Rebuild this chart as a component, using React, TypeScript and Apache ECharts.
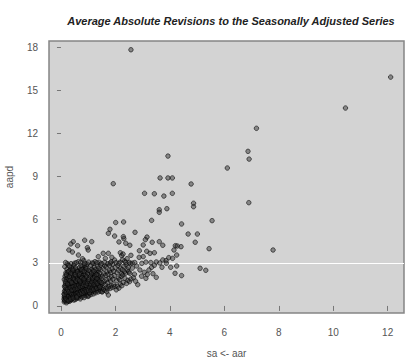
import React, { useEffect, useRef } from "react";
import * as echarts from "echarts";

const title = "Average Absolute Revisions to the Seasonally Adjusted Series";
const xName = "sa <- aar";
const yName = "aapd";
const xTicks = [0, 2, 4, 6, 8, 10, 12];
const yTicks = [0, 3, 6, 9, 12, 15, 18];
const refLineY = 3;

const clusterA: number[][] = [
  [0.12,0.28],[0.15,0.42],[0.18,0.35],[0.21,0.52],[0.14,0.61],[0.25,0.31],[0.28,0.47],[0.11,0.83],[0.19,0.74],[0.23,0.96],
  [0.31,0.58],[0.34,0.39],[0.37,0.71],[0.16,1.12],[0.27,1.05],[0.42,0.52],[0.45,0.88],[0.13,1.37],[0.22,1.28],[0.33,1.19],
  [0.39,0.94],[0.48,0.66],[0.17,1.58],[0.26,1.46],[0.36,1.41],[0.44,1.13],[0.12,1.84],[0.21,1.73],[0.30,1.66],[0.41,1.55],
  [0.49,1.27],[0.15,2.06],[0.24,1.97],[0.35,1.89],[0.46,1.78],[0.18,2.31],[0.29,2.22],[0.38,2.14],[0.47,2.02],[0.22,2.57],
  [0.32,2.46],[0.43,2.38],[0.14,2.73],[0.26,2.85],[0.40,2.67],[0.11,0.47],[0.20,0.22],[0.29,0.81],[0.35,1.02],[0.43,0.77],
  [0.17,0.93],[0.24,0.64],[0.32,0.33],[0.39,0.45],[0.47,0.41],[0.13,1.02],[0.20,1.21],[0.28,1.33],[0.38,1.28],[0.46,1.04],
  [0.16,1.44],[0.23,1.62],[0.34,1.55],[0.42,1.36],[0.50,1.48],[0.19,1.86],[0.27,1.78],[0.37,1.70],[0.44,1.92],[0.21,2.12],
  [0.31,2.03],[0.41,2.26],[0.49,2.31],[0.25,2.36],[0.36,2.53],[0.45,2.59],[0.23,2.94],[0.37,2.94],[0.31,2.78],[0.48,2.84],
  [0.12,0.63],[0.26,0.42],[0.33,0.62],[0.40,0.60],[0.18,0.57],[0.22,0.81],[0.30,1.12],[0.41,1.14],[0.15,1.28],[0.36,0.85],
];

const clusterB: number[][] = [
  [0.52,0.44],[0.55,0.61],[0.58,0.52],[0.61,0.78],[0.64,0.57],[0.67,0.69],[0.71,0.49],[0.74,0.83],[0.77,0.62],[0.81,0.74],
  [0.85,0.58],[0.88,0.91],[0.92,0.71],[0.96,0.82],[0.99,0.66],[0.53,0.97],[0.57,1.13],[0.62,1.04],[0.66,1.26],[0.70,1.09],
  [0.73,1.31],[0.78,1.17],[0.82,1.02],[0.86,1.24],[0.90,1.11],[0.94,1.36],[0.98,1.18],[0.54,1.42],[0.59,1.57],[0.63,1.48],
  [0.68,1.66],[0.72,1.53],[0.76,1.74],[0.80,1.45],[0.84,1.61],[0.89,1.82],[0.93,1.57],[0.97,1.71],[0.51,1.88],[0.56,2.03],
  [0.60,1.94],[0.65,2.16],[0.69,2.01],[0.75,2.24],[0.79,2.09],[0.83,1.97],[0.87,2.31],[0.91,2.12],[0.95,2.42],[0.53,2.34],
  [0.58,2.51],[0.62,2.43],[0.67,2.66],[0.71,2.48],[0.77,2.72],[0.81,2.57],[0.86,2.83],[0.90,2.64],[0.96,2.91],[0.50,2.97],
  [0.64,3.08],[0.72,3.03],[0.84,3.16],[0.60,0.89],[0.69,0.93],[0.76,1.01],[0.83,0.86],[0.91,0.97],[0.55,1.26],[0.64,1.33],
  [0.75,1.41],[0.87,1.44],[0.95,1.09],[0.57,1.71],[0.66,1.81],[0.74,1.92],[0.82,1.79],[0.92,1.98],[0.61,2.24],[0.70,2.32],
  [0.78,2.41],[0.88,2.19],[0.98,2.27],[0.54,2.64],[0.73,2.81],[0.93,2.77],[0.64,3.54],[0.79,3.28],[0.68,0.77],[0.86,1.05],
];

const clusterC: number[][] = [
  [1.02,0.71],[1.06,0.88],[1.10,0.79],[1.14,0.96],[1.19,0.84],[1.23,1.02],[1.27,0.91],[1.32,1.08],[1.36,0.97],[1.41,1.14],
  [1.45,1.03],[1.49,1.21],[1.03,1.12],[1.08,1.27],[1.12,1.19],[1.16,1.38],[1.21,1.24],[1.25,1.46],[1.30,1.33],[1.34,1.52],
  [1.39,1.39],[1.43,1.61],[1.47,1.47],[1.04,1.53],[1.09,1.69],[1.13,1.58],[1.18,1.77],[1.22,1.64],[1.26,1.86],[1.31,1.73],
  [1.35,1.94],[1.40,1.81],[1.44,2.03],[1.48,1.89],[1.05,1.96],[1.11,2.14],[1.15,2.02],[1.20,2.26],[1.24,2.11],[1.29,2.34],
  [1.33,2.19],[1.38,2.43],[1.42,2.28],[1.46,2.52],[1.07,2.38],[1.13,2.57],[1.17,2.46],[1.23,2.69],[1.28,2.54],[1.34,2.77],
  [1.39,2.61],[1.45,2.86],[1.10,2.82],[1.19,2.97],[1.25,3.08],[1.37,3.43],[1.41,3.04],[1.04,0.93],[1.17,1.07],[1.28,1.18],
  [1.38,1.26],[1.46,1.34],[1.12,1.43],[1.32,1.62],[1.18,1.97],[1.36,2.13],
];

const clusterD: number[][] = [
  [1.52,1.02],[1.51,0.97],[1.57,1.16],[1.62,1.08],[1.66,1.27],[1.68,0.99],[1.71,1.19],[1.74,0.76],[1.76,1.36],[1.81,1.22],
  [1.85,1.41],[1.89,1.29],[1.94,1.48],[1.98,1.35],[1.54,1.58],[1.59,1.72],[1.63,1.49],[1.67,1.83],[1.72,1.61],[1.77,1.92],
  [1.82,1.74],[1.86,2.03],[1.91,1.86],[1.96,2.12],[1.53,2.08],[1.58,2.24],[1.64,2.13],[1.69,2.37],[1.73,2.21],[1.79,2.46],
  [1.83,2.32],[1.88,2.58],[1.93,2.41],[1.99,2.67],[1.56,2.62],[1.61,2.79],[1.66,2.71],[1.72,2.94],[1.78,2.83],[1.84,3.07],
  [1.90,2.91],[1.97,3.19],[1.55,3.66],[1.74,3.66],[1.63,3.31],[1.87,3.38],
];

const clusterE: number[][] = [
  [2.03,1.12],[2.08,1.37],[2.13,1.24],[2.18,1.52],[2.24,1.41],[2.29,1.63],[2.35,1.92],[2.41,1.57],[2.46,1.78],[2.52,1.69],
  [2.57,1.88],[2.05,1.76],[2.11,1.94],[2.16,1.83],[2.21,2.07],[2.23,2.24],[2.27,2.16],[2.33,2.39],[2.38,2.28],[2.44,2.51],
  [2.49,2.36],[2.53,2.27],[2.06,2.31],[2.12,2.48],[2.19,2.62],[2.25,2.53],[2.31,2.76],[2.39,2.87],[2.47,2.68],[2.55,2.94],
  [2.09,2.82],[2.17,3.04],[2.26,3.21],[2.34,3.12],[2.43,3.29],[2.51,3.02],[2.18,3.70],[2.23,3.50],[2.28,3.61],[2.57,3.52],
];

const clusterF: number[][] = [
  [2.66,1.97],[2.82,1.48],[2.78,2.78],[2.90,2.50],[3.06,2.34],[3.12,1.92],[3.17,2.18],[3.50,1.99],[2.87,3.38],[3.02,3.43],
  [2.88,3.84],[3.15,3.80],[3.27,3.66],[3.43,3.70],[3.23,2.50],[3.33,2.69],[3.43,2.83],[3.50,3.06],[3.63,2.99],[3.71,2.69],
  [3.74,3.20],[3.86,3.15],[3.96,3.36],[4.10,3.31],[4.03,2.69],[4.25,2.78],[4.19,2.27],[4.43,2.11],[4.15,3.89],[4.25,3.54],
  [4.20,4.19],[4.27,4.17],[2.70,2.21],[2.96,2.07],[2.62,2.63],[2.74,1.72],[3.38,2.24],
];

const clusterG: number[][] = [
  [0.14,0.37],[0.17,0.51],[0.22,0.44],[0.27,0.63],[0.31,0.49],[0.35,0.57],[0.38,0.83],[0.43,0.66],[0.47,0.79],[0.52,0.71],
  [0.56,0.84],[0.59,0.69],[0.63,0.92],[0.67,0.81],[0.72,0.97],[0.76,0.88],[0.80,1.07],[0.84,0.96],[0.89,1.13],[0.93,1.04],
  [0.97,1.21],[1.01,1.08],[1.06,1.29],[1.11,1.11],[1.15,1.26],[1.20,1.16],[1.26,1.33],[1.31,1.24],[1.37,1.43],[1.42,1.31],
  [0.13,0.79],[0.19,0.97],[0.24,1.14],[0.29,0.99],[0.34,1.27],[0.40,1.09],[0.45,1.34],[0.51,1.17],[0.56,1.38],[0.61,1.21],
  [0.65,1.44],[0.70,1.31],[0.74,1.57],[0.79,1.36],[0.83,1.49],[0.88,1.64],[0.92,1.43],[0.97,1.58],[1.03,1.71],[1.09,1.52],
  [1.14,1.67],[1.21,1.49],[1.27,1.71],[1.33,1.56],[1.41,1.72],[1.48,1.64],[0.16,1.68],[0.25,1.54],[0.33,1.77],[0.39,1.62],
  [0.48,1.86],[0.55,1.74],[0.62,1.83],[0.69,1.74],[0.77,1.96],[0.85,1.88],[0.94,2.04],[1.02,1.86],[1.08,2.06],[1.16,1.91],
  [1.24,2.02],[1.32,1.91],[0.19,2.19],[0.28,2.41],[0.36,2.29],[0.44,2.49],[0.52,2.18],[0.60,2.37],[0.68,2.21],[0.76,2.53],
  [0.85,2.42],[0.94,2.59],[1.03,2.47],[1.12,2.29],[1.21,2.41],[1.30,2.18],[0.27,0.36],[0.36,0.47],[0.45,0.55],[0.58,0.61],
];

const clusterH: number[][] = [
  [0.17,3.02],[0.56,3.01],[0.88,2.97],[1.02,3.05],[1.15,2.99],[1.32,3.01],[1.49,2.96],[1.60,3.04],[1.81,2.98],
  [2.02,3.01],[2.13,2.95],[2.38,3.03],[2.62,2.98],[2.71,3.02],[2.97,2.96],[3.12,3.05],[3.30,3.02],[3.87,2.97],
];

const sparse: number[][] = [
  [0.45,4.47],[0.36,4.31],[0.42,3.75],[0.29,3.89],[0.61,4.19],[0.87,4.57],[1.13,4.47],[0.97,4.05],[1.00,3.89],
  [1.80,5.33],[2.72,5.12],[2.01,5.80],[2.30,5.84],[3.33,5.95],[1.97,4.86],[2.31,4.68],[2.53,4.22],[2.13,4.45],[2.38,4.36],
  [3.16,4.79],[3.10,4.61],[3.02,4.24],[3.35,4.43],[3.61,4.47],[3.74,4.22],[3.61,6.69],[3.61,6.51],[3.89,6.76],
  [3.07,7.83],[3.43,7.80],[3.78,7.64],[4.09,7.83],[3.64,8.90],[3.93,8.90],[4.09,8.90],[3.93,10.42],[1.92,8.50],
  [2.57,17.81],[4.78,8.48],[4.87,7.14],[4.87,6.90],[6.90,7.18],[5.55,5.93],[4.43,5.70],[4.67,5.00],[5.01,5.00],
  [4.93,4.43],[4.41,4.12],[5.44,3.98],[7.79,3.89],[5.11,2.62],[5.32,2.48],[6.11,9.59],[6.87,10.75],[6.91,10.21],
  [7.18,12.35],[10.45,13.76],[12.11,15.91],[1.74,5.05],[2.29,4.82],
];

const points = [
  ...clusterA, ...clusterB, ...clusterC, ...clusterD, ...clusterE, ...clusterF, ...clusterG, ...clusterH, ...sparse,
];

export default function App() {
  const ref = useRef<HTMLDivElement>(null);
  useEffect(() => {
    if (!ref.current) return;
    const chart = echarts.init(ref.current, null, { renderer: "svg" });
    const labelStyle = { color: "#555", fontSize: 10, fontFamily: "Liberation Sans, Arial, sans-serif" };
    chart.setOption({
      animation: false,
      backgroundColor: "#ffffff",
      title: {
        text: title,
        left: 226,
        textAlign: "center",
        top: 10,
        textStyle: {
          fontSize: 11,
          fontWeight: "bold",
          fontStyle: "italic",
          color: "#222",
          fontFamily: "Liberation Sans, Arial, sans-serif",
        },
      },
      grid: {
        left: 49,
        right: 13,
        top: 41,
        bottom: 45,
        containLabel: false,
        outerBoundsMode: "none",
        show: true,
        backgroundColor: "#d3d3d3",
        borderColor: "#858585",
        borderWidth: 1.5,
      },
      xAxis: {
        type: "value",
        min: -0.44,
        max: 12.6,
        name: xName,
        nameLocation: "middle",
        nameGap: 35,
        nameTextStyle: labelStyle,
        axisLine: { show: false },
        splitLine: { show: false },
        axisTick: { show: true, inside: false, length: 5, customValues: xTicks, lineStyle: { color: "#777" } },
        axisLabel: { ...labelStyle, margin: 14, customValues: xTicks },
      },
      yAxis: {
        type: "value",
        min: -0.49,
        max: 18.42,
        name: yName,
        nameLocation: "middle",
        nameGap: 35,
        nameRotate: 90,
        nameTextStyle: labelStyle,
        axisLine: { show: false },
        splitLine: { show: false },
        axisTick: { show: true, inside: false, length: 4, customValues: yTicks, lineStyle: { color: "#777" } },
        axisLabel: { ...labelStyle, margin: 11, customValues: yTicks },
      },
      series: [
        {
          type: "scatter",
          data: [],
          z: 1,
          silent: true,
          markLine: {
            z: 1,
            silent: true,
            symbol: "none",
            label: { show: false },
            lineStyle: { color: "#ffffff", width: 1, type: "solid" },
            data: [{ yAxis: refLineY }],
          },
        },
        {
          type: "scatter",
          data: points,
          z: 6,
          symbol: "circle",
          symbolSize: 4.5,
          silent: true,
          itemStyle: {
            color: "rgba(50,50,50,0.6)",
            borderColor: "rgba(0,0,0,0.7)",
            borderWidth: 1,
          },
        },
      ],
    });
    return () => chart.dispose();
  }, []);
  return (
    <div
      ref={ref}
      style={{ position: "fixed", left: 0, top: 0, width: 417, height: 358 }}
    />
  );
}
